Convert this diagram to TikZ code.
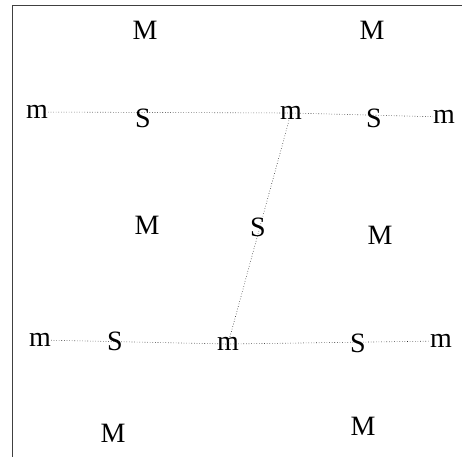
\documentclass[tikz,border=0pt]{standalone}
\usepackage{fontspec}
\setmainfont{Liberation Serif}
\usepackage{tikz}
\usetikzlibrary{positioning}

\begin{document}
\begin{tikzpicture}[x=1pt, y=-1pt,
  lbl/.style={inner sep=0pt, font=\fontsize{28}{30}\selectfont},
  link/.style={dotted, line width=0.6pt, black!85}]
\useasboundingbox (0,0) rectangle (462,456);
% frame (only left and top show)
\draw[black!75, line width=1pt] (12.5,470) -- (12.5,5.5) -- (475,5.5);
% top row
\node[lbl] (M1) at (145,30) {M};
\node[lbl] (M2) at (372,30) {M};
\node[lbl] (m1) at (37,112) {m};
\node[lbl] (s1) at (143,118) {S};
\node[lbl] (m2) at (291,113) {m};
\node[lbl] (s2) at (374,118) {S};
\node[lbl] (m3) at (444,117) {m};
% middle
\node[lbl] (M3) at (147,225) {M};
\node[lbl] (s3) at (258,227) {S};
\node[lbl] (M4) at (380,235) {M};
% bottom row
\node[lbl] (m4) at (40,340) {m};
\node[lbl] (s4) at (115,341) {S};
\node[lbl] (m5) at (228,344) {m};
\node[lbl] (s5) at (358,343) {S};
\node[lbl] (m6) at (441,341) {m};
\node[lbl] (M5) at (113,433) {M};
\node[lbl] (M6) at (363,426) {M};
% dotted links, through the S labels
\draw[link] (m1) -- (m2.center) -- (m3);
\draw[link] (m2.center) -- (m5.center);
\draw[link] (m4) -- (m5.center) -- (m6);
\end{tikzpicture}
\end{document}
